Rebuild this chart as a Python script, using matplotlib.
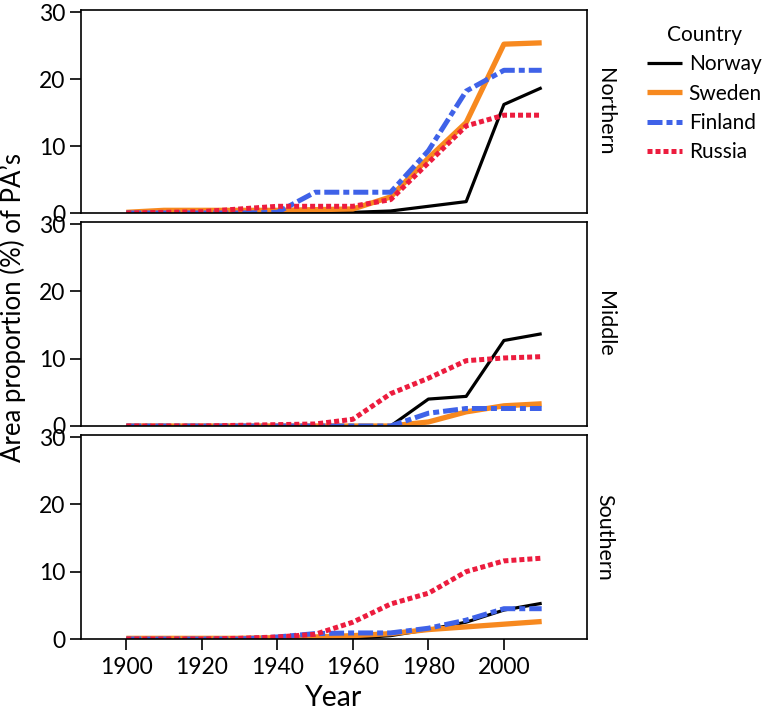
import matplotlib.pyplot as plt
import numpy as np

plt.rcParams['font.family'] = ['Lato', 'DejaVu Sans']

years = [1900, 1910, 1920, 1930, 1940, 1950, 1960, 1970, 1980, 1990, 2000, 2010]
regions = ['Northern', 'Middle', 'Southern']
countries = ['Norway', 'Sweden', 'Finland', 'Russia']

# area proportion (%) of protected areas, per region and country
northern = {
    'Norway':  [0, 0, 0, 0, 0, 0.05, 0.1, 0.3, 1.0, 1.7, 16.2, 18.7],
    'Sweden':  [0.1, 0.4, 0.4, 0.4, 0.4, 0.5, 0.6, 2.4, 8.2, 13.5, 25.2, 25.4],
    'Finland': [0, 0, 0, 0, 0.1, 3.1, 3.1, 3.1, 9.3, 18.2, 21.3, 21.3],
    'Russia':  [0, 0.1, 0.2, 0.6, 1.0, 1.0, 1.0, 2.0, 7.5, 13.0, 14.6, 14.6],
}
middle = {
    'Norway':  [0, 0, 0, 0, 0, 0, 0, 0, 4.0, 4.4, 12.7, 13.7],
    'Sweden':  [0, 0, 0, 0, 0, 0, 0, 0, 0.6, 2.1, 3.0, 3.3],
    'Finland': [0, 0, 0, 0, 0, 0, 0, 0, 1.9, 2.6, 2.6, 2.6],
    'Russia':  [0, 0, 0, 0.1, 0.2, 0.3, 1.0, 4.8, 7.1, 9.7, 10.1, 10.3],
}
southern = {
    'Norway':  [0, 0, 0, 0, 0, 0, 0.1, 0.5, 1.4, 2.5, 4.3, 5.3],
    'Sweden':  [0.1, 0.1, 0.1, 0.1, 0.2, 0.3, 0.5, 0.8, 1.4, 1.8, 2.2, 2.6],
    'Finland': [0, 0, 0, 0, 0.3, 0.8, 0.9, 0.9, 1.6, 2.8, 4.5, 4.5],
    'Russia':  [0, 0, 0, 0.1, 0.3, 0.7, 2.5, 5.2, 6.8, 10.0, 11.6, 12.0],
}
panels = [northern, middle, southern]

styles = {
    'Norway':  dict(color='black', lw=2.3, ls='-'),
    'Sweden':  dict(color='#F7891F', lw=3.8, ls='-'),
    'Finland': dict(color='#3F62E8', lw=3.6, dashes=(3, 0.8, 1.2, 0.8)),
    'Russia':  dict(color='#EC1C3E', lw=3.6, dashes=(1, 0.6)),
}

fig = plt.figure(figsize=(7.65, 7.12), dpi=100)
W, H = 765, 712
left, right = 81, 587
tops = [10, 222, 435]
bottoms = [213, 426, 639]

handles = []
for i, (reg, data) in enumerate(zip(regions, panels)):
    ax = fig.add_axes([left / W, 1 - bottoms[i] / H, (right - left) / W, (bottoms[i] - tops[i]) / H])
    for c in countries:
        ln, = ax.plot(years, data[c], solid_capstyle='butt', dash_capstyle='butt', **styles[c])
        if i == 0:
            handles.append(ln)
    ax.set_xlim(1888, 2022)
    ax.set_ylim(0, 30.3)
    ax.set_yticks([0, 10, 20, 30])
    ax.set_xticks([1900, 1920, 1940, 1960, 1980, 2000])
    ax.tick_params(axis='both', direction='out', length=8, width=1.2, labelsize=16.5, pad=3)
    ax.tick_params(axis='x', pad=5)
    if i < 2:
        ax.tick_params(axis='x', bottom=False, labelbottom=False)
    for sp in ax.spines.values():
        sp.set_linewidth(1.2)
    ax.text(1.035, 0.5, reg, transform=ax.transAxes, rotation=-90,
            ha='center', va='center', fontsize=15.5)
    if i == 2:
        ax.set_xlabel('Year', fontsize=20.5, labelpad=5)

fig.text(13 / W, 1 - 307 / H, "Area proportion (%) of PA\u2019s", rotation=90,
         ha='center', va='center', fontsize=18.5)

leg = fig.legend(handles, countries, title='Country', loc='upper left',
                 bbox_to_anchor=(647 / W, 1 - 25 / H), frameon=False,
                 fontsize=15, title_fontsize=15, handlelength=1.7,
                 handletextpad=0.3, labelspacing=0.45, borderpad=0,
                 borderaxespad=0)

fig.savefig('out.png', dpi=100)
